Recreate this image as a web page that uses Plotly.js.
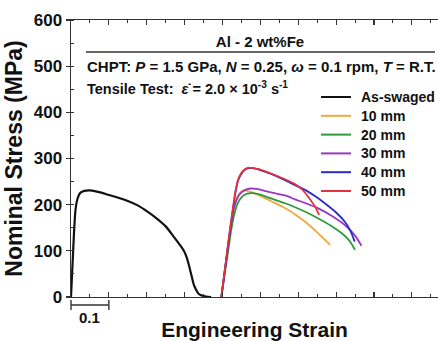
<!DOCTYPE html>
<html>
<head>
<meta charset="utf-8">
<script src="https://cdn.plot.ly/plotly-3.0.1.min.js"></script>
<style>
  html, body { margin: 0; padding: 0; background: #fff; overflow: hidden; }
  #chart { width: 438px; height: 341px; }
</style>
</head>
<body>
<div id="chart"></div>
<script>
// ---- Data ----
const seriesNames = ['As-swaged', '10 mm', '20 mm', '30 mm', '40 mm', '50 mm'];
const seriesColors = ['#111111', '#F2A93B', '#2E9A3E', '#9B35C2', '#2B2BC4', '#E4323F'];

const strainAs = [0, 0.004, 0.008, 0.012, 0.018, 0.025, 0.035, 0.05, 0.06, 0.08, 0.10, 0.125, 0.15, 0.175, 0.20, 0.225, 0.25, 0.27, 0.29, 0.30, 0.305, 0.31, 0.315, 0.32, 0.325, 0.33, 0.335, 0.34, 0.35, 0.36, 0.37];
const stressAs = [0, 70, 140, 190, 215, 226, 230, 231, 230, 226, 221, 215, 208, 199, 186, 171, 153, 132, 110, 97, 87, 73, 57, 40, 25, 16, 9, 5, 2, 0.6, 0];

const strain10 = [0.397, 0.405, 0.413, 0.421, 0.428, 0.435, 0.445, 0.455, 0.465, 0.48, 0.50, 0.53, 0.56, 0.59, 0.62, 0.65, 0.684];
const stress10 = [0, 50, 100, 148, 182, 207, 225, 231, 230, 226, 219, 207, 195, 180, 162, 140, 113];

const strain20 = [0.397, 0.405, 0.415, 0.423, 0.43, 0.44, 0.45, 0.465, 0.48, 0.50, 0.53, 0.565, 0.59, 0.62, 0.653, 0.685, 0.715, 0.735, 0.75];
const stress20 = [0, 45, 100, 145, 175, 203, 216, 224, 225, 222, 213, 203, 195, 184, 170, 155, 138, 122, 102];

const strain30 = [0.397, 0.405, 0.413, 0.421, 0.428, 0.436, 0.445, 0.46, 0.475, 0.49, 0.52, 0.565, 0.59, 0.62, 0.653, 0.69, 0.723, 0.75, 0.767];
const stress30 = [0, 50, 100, 150, 185, 208, 222, 232, 235, 234, 228, 220, 212, 203, 192, 175, 156, 133, 111];

const strain40 = [0.397, 0.405, 0.413, 0.421, 0.428, 0.435, 0.442, 0.45, 0.46, 0.47, 0.48, 0.50, 0.53, 0.565, 0.59, 0.618, 0.645, 0.67, 0.70, 0.723, 0.737, 0.749];
const stress40 = [0, 50, 100, 150, 192, 230, 254, 267, 276, 279, 279, 275, 266, 253, 243, 232, 218, 203, 183, 163, 145, 120];

const strain50 = [0.397, 0.405, 0.413, 0.421, 0.428, 0.435, 0.442, 0.45, 0.46, 0.47, 0.48, 0.50, 0.53, 0.565, 0.59, 0.61, 0.63, 0.645, 0.655];
const stress50 = [0, 52, 104, 155, 196, 233, 256, 269, 277, 280, 279, 276, 267, 255, 245, 233, 213, 195, 178];

const xRange = [0, 0.969];
const yRange = [0, 600];
const scaleBarValue = 0.1;
const scaleBarLabel = '0.1';

const titleText = 'Al - 2 wt%Fe';
const line1Text = 'CHPT: <i>P</i> = 1.5 GPa, <i>N</i> = 0.25, <i>\u03C9</i> = 0.1 rpm, <i>T</i> = R.T.';
const line2Text = 'Tensile Test:  <i>\u03B5\u0307</i> = 2.0 \u00D7 10<sup>-3</sup> s<sup>-1</sup>';

// ---- Layout geometry ----
const W = 438, H = 341;
const M = { l: 71, r: 0, t: 20, b: 44 };
const pw = W - M.l - M.r, ph = H - M.t - M.b;
const px = (x) => (x - M.l) / pw;          // pixel -> paper x
const py = (y) => (H - M.b - y) / ph;      // pixel -> paper y

const FONT = 'Liberation Sans, Arial, Helvetica, sans-serif';
const TXT = '#111111';

const xs = [strainAs, strain10, strain20, strain30, strain40, strain50];
const ys = [stressAs, stress10, stress20, stress30, stress40, stress50];

const traces = xs.map((x, i) => ({
  type: 'scatter', mode: 'lines', x: x, y: ys[i], name: seriesNames[i],
  line: { color: seriesColors[i], width: i === 0 ? 2.2 : 1.8, shape: 'spline', smoothing: 0.6 },
  showlegend: false, hoverinfo: 'skip'
}));

const shapes = [];
const annotations = [];

// rule under title
shapes.push({ type: 'line', xref: 'paper', yref: 'paper', x0: px(86), x1: px(435), y0: py(52), y1: py(52),
  line: { color: '#333', width: 1.4 } });

// scale bar
const sbx1 = scaleBarValue / (xRange[1] - xRange[0]);
shapes.push({ type: 'line', xref: 'paper', yref: 'paper', x0: 0, x1: sbx1, y0: py(305), y1: py(305), line: { color: '#333', width: 1.4 } });
shapes.push({ type: 'line', xref: 'paper', yref: 'paper', x0: 0, x1: 0, y0: py(300), y1: py(310), line: { color: '#333', width: 1.4 } });
shapes.push({ type: 'line', xref: 'paper', yref: 'paper', x0: sbx1, x1: sbx1, y0: py(300), y1: py(310), line: { color: '#333', width: 1.4 } });
annotations.push({ xref: 'paper', yref: 'paper', x: sbx1 / 2, y: py(317), xanchor: 'center', yanchor: 'middle',
  text: scaleBarLabel, showarrow: false, font: { family: FONT, size: 15, weight: 'bold', color: TXT } });

// info lines
annotations.push({ xref: 'paper', yref: 'paper', x: px(85), y: py(66), xanchor: 'left', yanchor: 'middle',
  text: line1Text, showarrow: false, font: { family: FONT, size: 15, weight: 'bold', color: TXT } });
annotations.push({ xref: 'paper', yref: 'paper', x: px(85), y: py(88), xanchor: 'left', yanchor: 'middle',
  text: line2Text, showarrow: false, font: { family: FONT, size: 14.5, weight: 'bold', color: TXT } });

// legend (manual, to match row spacing)
const legRow0 = 97, legStep = 18.8;
seriesNames.forEach((n, i) => {
  const yc = legRow0 + i * legStep;
  shapes.push({ type: 'line', xref: 'paper', yref: 'paper', x0: px(321), x1: px(351), y0: py(yc), y1: py(yc),
    line: { color: seriesColors[i], width: 2 } });
  annotations.push({ xref: 'paper', yref: 'paper', x: px(359), y: py(yc), xanchor: 'left', yanchor: 'middle',
    text: n, showarrow: false, font: { family: FONT, size: 14, weight: 'bold', color: TXT } });
});

const layout = {
  width: W, height: H,
  margin: { l: M.l, r: M.r, t: M.t, b: M.b, pad: 0, autoexpand: false },
  paper_bgcolor: '#fff', plot_bgcolor: '#fff',
  font: { family: FONT, color: TXT },
  showlegend: false,
  title: { text: titleText, x: 260 / W, xref: 'container', xanchor: 'center', y: 1 - 42 / H, yref: 'container', yanchor: 'middle',
    font: { family: FONT, size: 15, weight: 'bold', color: TXT } },
  xaxis: {
    range: xRange, showline: true, linecolor: '#333', linewidth: 1.4, mirror: 'ticks',
    ticks: 'inside', ticklen: 5, tickwidth: 1.2, tickcolor: '#333', tick0: 0, dtick: 0.1,
    minor: { dtick: 0.05, ticks: 'inside', ticklen: 3, tickwidth: 1, tickcolor: '#333' },
    showticklabels: false, showgrid: false, zeroline: false, automargin: false,
    title: { text: 'Engineering Strain', standoff: 25, font: { family: FONT, size: 21, weight: 'bold', color: TXT } }
  },
  yaxis: {
    range: yRange, showline: true, linecolor: '#333', linewidth: 1.4, mirror: false,
    ticks: 'outside', ticklen: 4, tickwidth: 1.2, tickcolor: '#333', tick0: 0, dtick: 100,
    minor: { dtick: 50, ticks: 'inside', ticklen: 3, tickwidth: 1, tickcolor: '#333' },
    tickfont: { family: FONT, size: 17, weight: 'bold', color: TXT },
    showgrid: false, zeroline: false, automargin: false,
    title: { text: 'Nominal Stress (MPa)', standoff: 4, font: { family: FONT, size: 23, weight: 'bold', color: TXT } }
  },
  shapes: shapes,
  annotations: annotations
};

Plotly.newPlot('chart', traces, layout, { staticPlot: true, displayModeBar: false });
</script>
</body>
</html>
